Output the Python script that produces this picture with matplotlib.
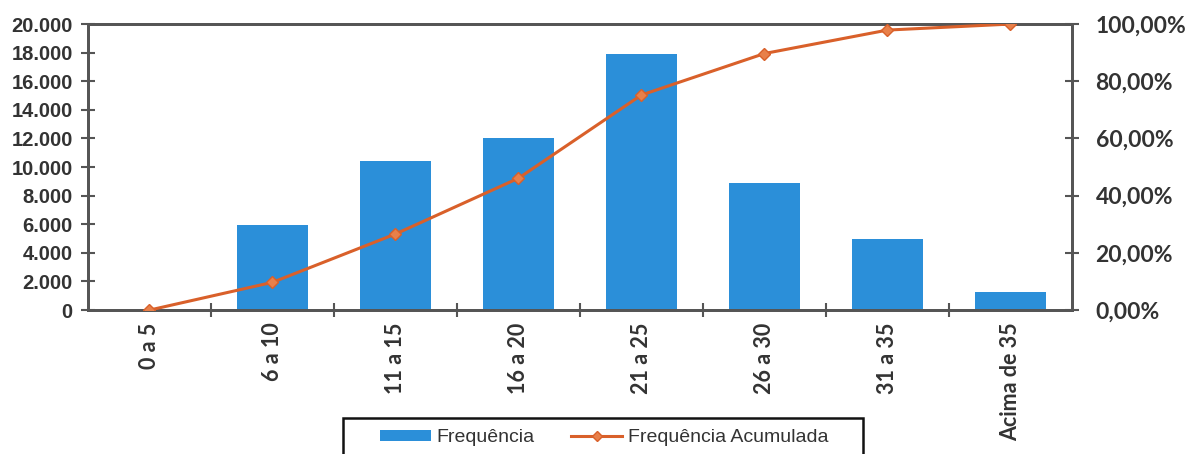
import matplotlib.pyplot as plt
from matplotlib.lines import Line2D
from matplotlib.patches import Patch, Rectangle

# data
categories = ["0 a 5", "6 a 10", "11 a 15", "16 a 20", "21 a 25", "26 a 30", "31 a 35", "Acima de 35"]
frequencia = [0, 5950, 10400, 12000, 17900, 8900, 5000, 1250]
acumulada = [0.0, 9.7, 26.6, 46.1, 75.2, 89.7, 97.9, 100.0]

left_ticks = [0, 2000, 4000, 6000, 8000, 10000, 12000, 14000, 16000, 18000, 20000]
left_labels = ["0", "2.000", "4.000", "6.000", "8.000", "10.000", "12.000", "14.000", "16.000", "18.000", "20.000"]
right_ticks = [0, 20, 40, 60, 80, 100]
right_labels = ["0,00%", "20,00%", "40,00%", "60,00%", "80,00%", "100,00%"]

bar_color = "#2b8fd9"
line_color = "#d9602a"
axis_color = "#555555"
text_color = "#333333"

fig = plt.figure(figsize=(11.87, 4.54), dpi=100)
ax = fig.add_axes([0.0741, 0.317, 0.829, 0.630])
ax2 = ax.twinx()

x = list(range(len(categories)))
ax.bar(x, frequencia, width=0.58, color=bar_color, zorder=2)
ax.set_xlim(-0.5, len(categories) - 0.5)
ax.set_ylim(0, 20000)
ax.set_yticks(left_ticks)
ax.set_yticklabels(left_labels, fontsize=14.5, family="Liberation Sans", weight="bold", color=text_color)
ax.set_xticks(x)
ax.set_xticklabels(categories, rotation=90, fontsize=15.5, family="Lato", weight="bold", color=text_color)
ax.set_xticks([i + 0.5 for i in x[:-1]], minor=True)
ax.tick_params(axis="x", which="major", length=0, pad=9)
ax.tick_params(axis="x", which="minor", length=10, direction="inout", color=axis_color, width=1.5)
ax.tick_params(axis="y", length=10, direction="inout", color=axis_color, width=1.5, pad=6)

ax2.plot(x, acumulada, color=line_color, linewidth=2.2, marker="D", markersize=6.5,
         markerfacecolor="#e8804a", markeredgecolor=line_color, zorder=3)
ax2.set_ylim(0, 100)
ax2.set_yticks(right_ticks)
ax2.set_yticklabels(right_labels, fontsize=16.5, family="Lato", weight="bold", color=text_color)
ax2.tick_params(axis="y", length=10, direction="inout", color=axis_color, width=1.5, pad=12)

for a in (ax, ax2):
    for s in a.spines.values():
        s.set_color(axis_color)
        s.set_linewidth(2)

# legend box (cut off by the bottom edge, as in the scan)
fig.patches.append(Rectangle((343 / 1187, -0.05), 520 / 1187, 0.05 + 36 / 454,
                             transform=fig.transFigure, fill=False,
                             edgecolor="#111111", linewidth=1.8))

handles = [
    Patch(facecolor=bar_color, edgecolor="none"),
    Line2D([0], [0], color=line_color, linewidth=2.2, marker="D", markersize=5,
           markerfacecolor="#e8804a", markeredgecolor=line_color),
]
leg = fig.legend(handles, ["Frequência", "Frequência Acumulada"], loc="center left",
                 bbox_to_anchor=(380 / 1187, 1 - 438 / 454), borderaxespad=0, borderpad=0,
                 ncol=2, frameon=False, prop={"family": "Liberation Sans", "size": 14},
                 handlelength=2.6, handleheight=0.45, columnspacing=1.9,
                 handletextpad=0.3, labelcolor=text_color)

fig.savefig("out.png", dpi=100)
